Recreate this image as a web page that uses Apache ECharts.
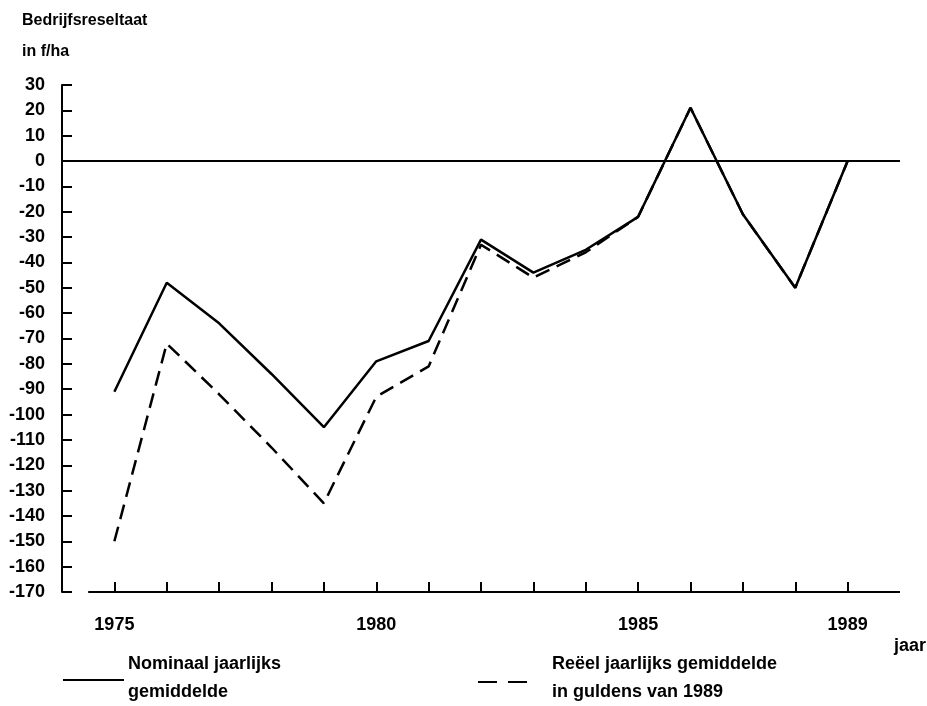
<!DOCTYPE html>
<html>
<head>
<meta charset="utf-8">
<script src="https://cdn.jsdelivr.net/npm/echarts@6/dist/echarts.min.js"></script>
<style>
html,body{margin:0;padding:0;background:#fff;}
#chart{width:927px;height:706px;}
</style>
</head>
<body>
<div id="chart"></div>
<script>
// ---- data ----
const years = [1975,1976,1977,1978,1979,1980,1981,1982,1983,1984,1985,1986,1987,1988,1989];
const nominaal = [-91,-48,-64,-84,-105,-79,-71,-31,-44,-35,-22,21,-21,-50,0];
const reeel = [-150,-72,-92,-113,-135,-93,-81,-33,-46,-36,-22,21,-21,-50,0];
const xLabelYears = [1975,1980,1985,1989];
const yTicks = [30,20,10,0,-10,-20,-30,-40,-50,-60,-70,-80,-90,-100,-110,-120,-130,-140,-150,-160,-170];
const yTitle1 = 'Bedrijfsreseltaat';
const yTitle2 = 'in f/ha';
const xName = 'jaar';
const legendNom = ['Nominaal jaarlijks', 'gemiddelde'];
const legendReeel = ['Reëel jaarlijks gemiddelde', 'in guldens van 1989'];

const FONT = '"Liberation Sans", Arial, Helvetica, sans-serif';
const chart = echarts.init(document.getElementById('chart'), null, {renderer: 'canvas'});

const pair = (xs, ys) => xs.map((x, i) => [x, ys[i]]);

const txt = (t, x, y, size, weight) => ({
  type: 'text', x: x, y: y,
  style: {text: t, font: (weight || 'bold') + ' ' + size + 'px ' + FONT, fill: '#000', textVerticalAlign: 'middle', textAlign: 'left'}
});

chart.setOption({
  backgroundColor: '#fff',
  animation: false,
  grid: {left: 62, right: 27, top: 85, bottom: 114, containLabel: false},
  xAxis: {
    type: 'value', min: 1974, max: 1990, interval: 1,
    axisLine: {show: false, onZero: false},
    splitLine: {show: false},
    axisTick: {show: true, inside: true, length: 10, customValues: years, lineStyle: {color: '#000', width: 2}},
    axisLabel: {show: true, customValues: xLabelYears, margin: 24, color: '#000', fontFamily: FONT, fontWeight: 'bold', fontSize: 18, formatter: v => String(v)}
  },
  yAxis: {
    type: 'value', min: -170, max: 30, interval: 10,
    axisLine: {show: true, onZero: false, lineStyle: {color: '#000', width: 2}},
    splitLine: {show: false},
    axisTick: {show: true, inside: true, length: 10, lineStyle: {color: '#000', width: 2}},
    axisLabel: {show: true, margin: 17, color: '#000', fontFamily: FONT, fontWeight: 'bold', fontSize: 18, customValues: yTicks}
  },
  series: [
    {
      name: legendReeel.join(' '),
      type: 'line',
      data: pair(years, reeel),
      symbol: 'none',
      z: 2,
      lineStyle: {color: '#000', width: 2.5, type: [15, 8]},
      markLine: {
        silent: true, symbol: 'none', label: {show: false},
        lineStyle: {color: '#000', width: 2, type: 'solid'},
        data: [
          [{coord: [1974.5, -170]}, {coord: [1990, -170]}]
        ]
      }
    },
    {
      name: legendNom.join(' '),
      type: 'line',
      data: pair(years, nominaal),
      symbol: 'none',
      z: 3,
      lineStyle: {color: '#000', width: 2.5, type: 'solid'},
      markLine: {
        silent: true, symbol: 'none', label: {show: false},
        lineStyle: {color: '#000', width: 2, type: 'solid'},
        data: [{yAxis: 0}]
      }
    }
  ],
  graphic: [
    txt(yTitle1, 22, 21, 16),
    txt(yTitle2, 22, 52, 16),
    txt(xName, 894, 646, 18),
    {type: 'line', shape: {x1: 63, y1: 680, x2: 124, y2: 680}, style: {stroke: '#000', lineWidth: 2}},
    txt(legendNom[0], 128, 664, 18),
    txt(legendNom[1], 128, 692, 18),
    {type: 'line', shape: {x1: 478, y1: 682, x2: 528, y2: 682}, style: {stroke: '#000', lineWidth: 2, lineDash: [19, 11]}},
    txt(legendReeel[0], 552, 664, 18),
    txt(legendReeel[1], 552, 692, 18)
  ]
});
</script>
</body>
</html>
